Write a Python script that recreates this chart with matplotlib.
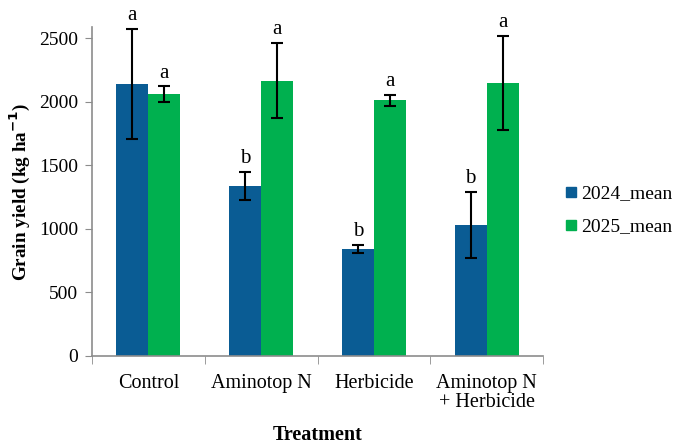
import matplotlib
matplotlib.use('Agg')
import matplotlib.pyplot as plt
import numpy as np
from matplotlib.lines import Line2D

plt.rcParams['font.family'] = ['Liberation Serif', 'DejaVu Serif']

treatments = ['Control', 'Aminotop N', 'Herbicide', 'Aminotop N\n+ Herbicide']
mean_2024 = [2140, 1338, 845, 1032]
err_2024 = [432, 112, 32, 258]
mean_2025 = [2060, 2168, 2013, 2152]
err_2025 = [63, 295, 45, 371]
letters_2024 = ['a', 'b', 'b', 'b']
letters_2025 = ['a', 'a', 'a', 'a']

blue = '#0A5C94'
green = '#00B04F'
gray = '#8C8C8C'

fig = plt.figure(figsize=(6.84, 4.47), dpi=100)
ax = fig.add_axes([0.1345, 0.2036, 0.6595, 0.736])

x = np.arange(len(treatments))
w = 0.284
ax.bar(x - w/2, mean_2024, w, color=blue, label='2024_mean', zorder=2)
ax.bar(x + w/2, mean_2025, w, color=green, label='2025_mean', zorder=2)
ax.errorbar(x - w/2, mean_2024, yerr=err_2024, fmt='none', ecolor='black',
            elinewidth=1.5, capsize=4, capthick=1.5, zorder=3)
ax.errorbar(x + w/2, mean_2025, yerr=err_2025, fmt='none', ecolor='black',
            elinewidth=1.5, capsize=4, capthick=1.5, zorder=3)

# significance letters above the error bars
for i in range(len(treatments)):
    ax.text(x[i] - w/2, mean_2024[i] + err_2024[i] + 30, letters_2024[i],
            ha='center', va='bottom', fontsize=15)
    ax.text(x[i] + w/2, mean_2025[i] + err_2025[i] + 30, letters_2025[i],
            ha='center', va='bottom', fontsize=15)

ax.set_xlim(-0.5, len(treatments) - 0.5)
ax.set_ylim(0, 2590)
ax.set_yticks([0, 500, 1000, 1500, 2000, 2500])
ax.set_xticks(x)
ax.set_xticklabels(treatments, fontsize=14.5, linespacing=1.0)
ax.set_xticks(np.arange(-0.5, len(treatments)), minor=True)
ax.tick_params(axis='x', which='major', length=0, pad=13)
ax.tick_params(axis='x', which='minor', length=6, color=gray)
ax.tick_params(axis='y', length=5, color=gray, labelsize=14, pad=5)

for s in ['top', 'right']:
    ax.spines[s].set_visible(False)
for s in ['left', 'bottom']:
    ax.spines[s].set_color(gray)
    ax.spines[s].set_linewidth(1.2)

ax.set_ylabel('Grain yield (kg ha$^{\\mathbf{-1}}$)', fontsize=13.8, fontweight='bold', labelpad=5)
ax.set_xlabel('Treatment', fontsize=14.5, fontweight='bold', labelpad=9)

handles = [Line2D([], [], marker='s', ls='none', color=blue, markersize=6.5),
           Line2D([], [], marker='s', ls='none', color=green, markersize=6.5)]
fig.legend(handles, ['2024_mean', '2025_mean'], loc='center left',
           bbox_to_anchor=(0.797, 0.53), frameon=False, fontsize=14,
           handletextpad=0.05, labelspacing=0.8, handlelength=0.9)

fig.savefig('out.png', dpi=100)
